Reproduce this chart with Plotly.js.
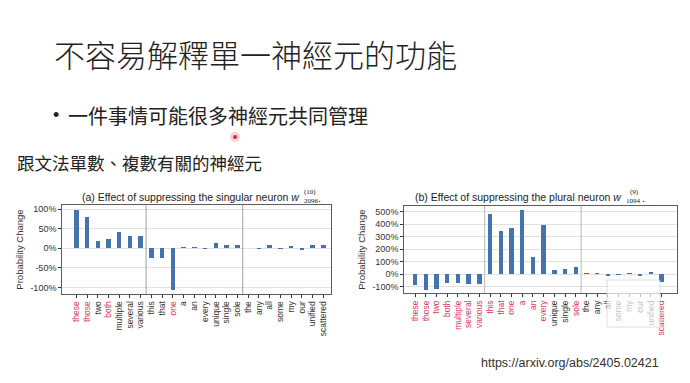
<!DOCTYPE html>
<html>
<head>
<meta charset="utf-8">
<script src="https://cdn.plot.ly/plotly-3.0.1.min.js"></script>
<style>html,body{margin:0;padding:0;background:#fff;}#chart{width:690px;height:383px;}</style>
</head>
<body>
<div id="chart"></div>
<script>
// ---- data ----
const words = ["these","those","two","both","multiple","several","various","this","that","one","a","an","every","unique","single","sole","the","any","all","some","my","our","unified","scattered"];
const singularChange = [97,79,19,25,42,31,31,-25,-24,-106,3,3,-1,13,8,9,0,-1,9,-3,6,-4,9,9];
const pluralChange = [-85,-128,-117,-69,-69,-83,-80,480,347,368,512,139,395,35,40,59,8,8,-19,-5,5,-13,19,-64];
const singularRed = ["these","those","both","one"];
const pluralRed = ["these","those","two","both","multiple","several","various","this","that","one","a","an","every","sole","scattered"];
const singularTicks = [-100,-50,0,50,100];
const singularTickText = ["-100%","-50%","0%","50%","100%"];
const pluralTicks = [-100,0,100,200,300,400,500];
const pluralTickText = ["-100%","0%","100%","200%","300%","400%","500%"];
const slideTitle = "不容易解釋單一神經元的功能";
const bulletText = "一件事情可能很多神經元共同管理";
const subTitle = "跟文法單數、複數有關的神經元";
const sourceUrl = "https://arxiv.org/abs/2405.02421";

// ---- helpers ----
const W = 690, H = 383;
const px = v => v / W;
const py = v => 1 - v / H;
const RED = "#d83a63", DARK = "#333";
const BAR = "#4374b0";
const idx = words.map((w, i) => i);
const colored = reds => words.map(w => '<span style="color:' + (reds.includes(w) ? RED : DARK) + '">' + w + '</span>');

const traces = [
  {type: "bar", x: idx, y: singularChange, xaxis: "x", yaxis: "y", width: 0.42,
   marker: {color: BAR}, hoverinfo: "skip"},
  {type: "bar", x: idx, y: pluralChange, xaxis: "x2", yaxis: "y2", width: 0.42,
   marker: {color: BAR}, hoverinfo: "skip"}
];

const tickFont = {family: "Liberation Sans, Arial, sans-serif", size: 9, color: DARK};
const xCommon = {
  tickmode: "array", tickvals: idx, tickangle: -90,
  tickfont: {family: "Liberation Sans, Arial, sans-serif", size: 8.5, color: DARK},
  ticks: "outside", ticklen: 3, tickcolor: "#333",
  showline: true, mirror: true, linecolor: "#333", linewidth: 0.8,
  showgrid: false, zeroline: false, fixedrange: true
};
const yCommon = {
  tickmode: "array", tickfont: tickFont,
  ticks: "outside", ticklen: 3, tickcolor: "#333",
  showline: true, mirror: true, linecolor: "#333", linewidth: 0.8,
  showgrid: true, gridcolor: "#dadada", gridwidth: 0.8, zeroline: false, fixedrange: true,
  title: {text: "Probability Change", font: {family: "Liberation Sans, Arial, sans-serif", size: 9.5, color: DARK}, standoff: 4}
};

const layout = {
  width: W, height: H,
  margin: {l: 0, r: 0, t: 0, b: 0},
  paper_bgcolor: "#fff", plot_bgcolor: "#fff",
  showlegend: false, bargap: 0,
  xaxis: Object.assign({}, xCommon, {domain: [px(62), px(331)], range: [-1.33, 23.72], ticktext: colored(singularRed), anchor: "y"}),
  yaxis: Object.assign({}, yCommon, {domain: [py(294), py(205)], range: [-116.6, 110.5], tickvals: singularTicks, ticktext: singularTickText, anchor: "x"}),
  xaxis2: Object.assign({}, xCommon, {domain: [px(404), px(677)], range: [-1.03, 24.45], ticktext: colored(pluralRed), anchor: "y2"}),
  yaxis2: Object.assign({}, yCommon, {domain: [py(293.3), py(206)], range: [-154, 544], tickvals: pluralTicks, ticktext: pluralTickText, anchor: "x2"}),
  shapes: [
    {type: "line", xref: "x", yref: "y domain", x0: 6.5, x1: 6.5, y0: 0, y1: 1, line: {color: "#888", width: 0.8}},
    {type: "line", xref: "x", yref: "y domain", x0: 15.5, x1: 15.5, y0: 0, y1: 1, line: {color: "#888", width: 0.8}},
    {type: "line", xref: "x2", yref: "y2 domain", x0: 6.5, x1: 6.5, y0: 0, y1: 1, line: {color: "#aaa", width: 0.8}},
    {type: "line", xref: "x2", yref: "y2 domain", x0: 15.5, x1: 15.5, y0: 0, y1: 1, line: {color: "#aaa", width: 0.8}},
    // laser pointer dot
    {type: "circle", xref: "paper", yref: "paper", x0: px(230), x1: px(240), y0: py(142), y1: py(132), fillcolor: "rgba(240,120,140,0.35)", line: {width: 0}},
    {type: "circle", xref: "paper", yref: "paper", x0: px(233), x1: px(237), y0: py(139), y1: py(135), fillcolor: "#d9263f", line: {width: 0}},
    // translucent overlay box (bottom right)
    {type: "rect", xref: "paper", yref: "paper", layer: "above", x0: px(607), x1: px(660), y0: py(327), y1: py(280), fillcolor: "rgba(255,255,255,0.7)", line: {color: "rgba(200,200,200,0.6)", width: 1}}
  ],
  annotations: [
    {xref: "paper", yref: "paper", x: px(52), y: py(53), xanchor: "left", yanchor: "middle", showarrow: false,
     text: slideTitle, font: {family: "Noto Sans CJK TC, sans-serif", size: 31, color: "#222", weight: 300}},
    {xref: "paper", yref: "paper", x: px(56), y: py(115), xanchor: "center", yanchor: "middle", showarrow: false,
     text: "•", font: {family: "Liberation Sans, sans-serif", size: 18, color: "#222"}},
    {xref: "paper", yref: "paper", x: px(66), y: py(115), xanchor: "left", yanchor: "middle", showarrow: false,
     text: bulletText, font: {family: "Noto Sans CJK TC, sans-serif", size: 20, color: "#222"}},
    {xref: "paper", yref: "paper", x: px(15), y: py(162), xanchor: "left", yanchor: "middle", showarrow: false,
     text: subTitle, font: {family: "Noto Sans CJK TC, sans-serif", size: 17.5, color: "#222"}},
    {xref: "paper", yref: "paper", x: px(479), y: py(363), xanchor: "left", yanchor: "middle", showarrow: false,
     text: sourceUrl, font: {family: "Liberation Sans, Arial, sans-serif", size: 12.5, color: "#333"}},
    // panel (a) title
    {xref: "paper", yref: "paper", x: px(302), y: py(197), xanchor: "right", yanchor: "middle", showarrow: false,
     text: "(a) Effect of suppressing the singular neuron <i>w</i>", font: {family: "Liberation Sans, Arial, sans-serif", size: 10.5, color: "#222"}},
    {xref: "paper", yref: "paper", x: px(302), y: py(191.5), xanchor: "left", yanchor: "middle", showarrow: false,
     text: "(10)", font: {family: "Liberation Serif, serif", size: 7, color: "#222"}},
    {xref: "paper", yref: "paper", x: px(302), y: py(200.5), xanchor: "left", yanchor: "middle", showarrow: false,
     text: "2096", font: {family: "Liberation Serif, serif", size: 7, color: "#222"}},
    {xref: "paper", yref: "paper", x: px(316), y: py(198), xanchor: "left", yanchor: "middle", showarrow: false,
     text: ".", font: {family: "Liberation Sans, Arial, sans-serif", size: 10.5, color: "#222"}},
    // panel (b) title
    {xref: "paper", yref: "paper", x: px(624), y: py(197), xanchor: "right", yanchor: "middle", showarrow: false,
     text: "(b) Effect of suppressing the plural neuron <i>w</i>", font: {family: "Liberation Sans, Arial, sans-serif", size: 10.5, color: "#222"}},
    {xref: "paper", yref: "paper", x: px(628), y: py(192), xanchor: "left", yanchor: "middle", showarrow: false,
     text: "(9)", font: {family: "Liberation Serif, serif", size: 7, color: "#222"}},
    {xref: "paper", yref: "paper", x: px(624), y: py(200.5), xanchor: "left", yanchor: "middle", showarrow: false,
     text: "1094", font: {family: "Liberation Serif, serif", size: 7, color: "#222"}},
    {xref: "paper", yref: "paper", x: px(640), y: py(198), xanchor: "left", yanchor: "middle", showarrow: false,
     text: ".", font: {family: "Liberation Sans, Arial, sans-serif", size: 10.5, color: "#222"}}
  ]
};

Plotly.newPlot("chart", traces, layout, {staticPlot: true, displayModeBar: false});
</script>
</body>
</html>
